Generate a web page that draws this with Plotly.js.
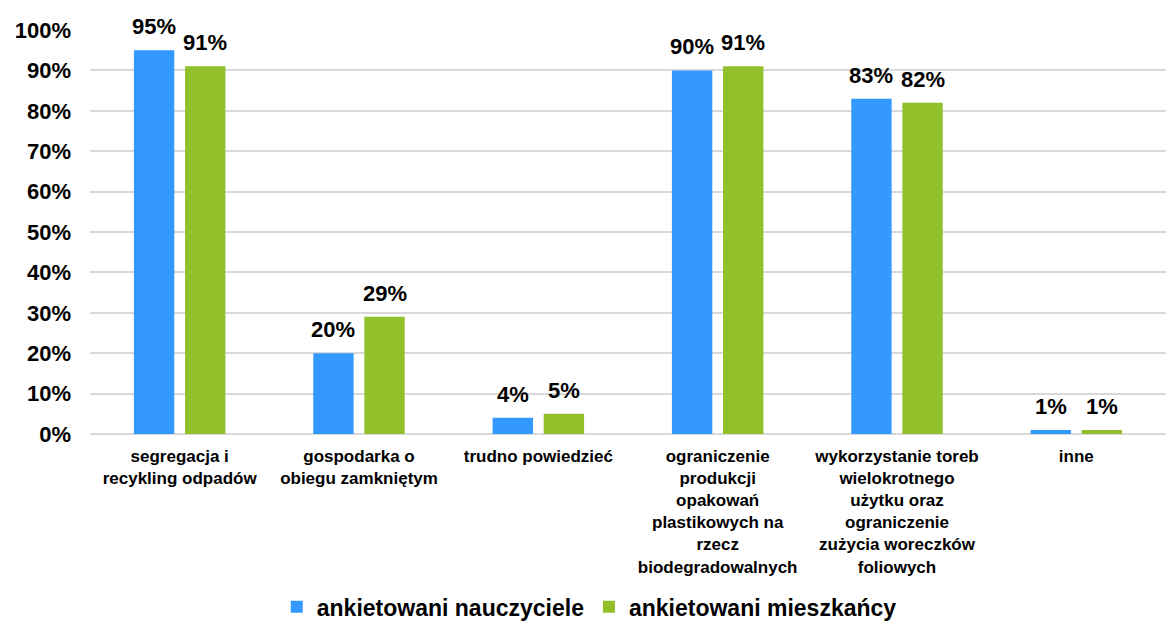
<!DOCTYPE html>
<html>
<head>
<meta charset="utf-8">
<script src="https://cdn.plot.ly/plotly-3.0.1.min.js"></script>
<style>html,body{margin:0;padding:0;background:#fff;}#chart{width:1166px;height:624px;}</style>
</head>
<body>
<div id="chart"></div>
<script>
const categories = [
  "segregacja i<br>recykling odpadów",
  "gospodarka o<br>obiegu zamkniętym",
  "trudno powiedzieć",
  "ograniczenie<br>produkcji<br>opakowań<br>plastikowych na<br>rzecz<br>biodegradowalnych",
  "wykorzystanie toreb<br>wielokrotnego<br>użytku oraz<br>ograniczenie<br>zużycia woreczków<br>foliowych",
  "inne"
];
const seriesNames = ["ankietowani nauczyciele", "ankietowani mieszkańcy"];
const teachers = [0.95, 0.20, 0.04, 0.90, 0.83, 0.01];
const residents = [0.91, 0.29, 0.05, 0.91, 0.82, 0.01];
const colors = ["#3399FF", "#92C02A"];
const yTicks = [0, 0.1, 0.2, 0.3, 0.4, 0.5, 0.6, 0.7, 0.8, 0.9, 1.0];

const FONT = "Arial, 'Liberation Sans', sans-serif";
function pct(v){ return Math.round(v*100) + "%"; }

const W = 1166, H = 624, ML = 90, MR = 0, MT = 30, MB = 190;
const BARGAP = 0.43, BARGROUPGAP = 0.21;
const slot = (W - ML - MR) / categories.length * (1 - BARGAP) / 2;

const seriesVals = [teachers, residents];
const traces = seriesVals.map((vals, i) => ({
  type: "bar",
  name: seriesNames[i],
  x: categories,
  y: vals,
  marker: {color: colors[i]},
  hoverinfo: "none"
}));

const annotations = [];
seriesVals.forEach((vals, i) => {
  vals.forEach((v, j) => {
    annotations.push({
      x: categories[j], y: v, xref: "x", yref: "y",
      text: pct(v), showarrow: false,
      xanchor: "center", yanchor: "bottom",
      xshift: (i === 0 ? -1 : 1) * slot / 2,
      yshift: 9,
      font: {family: FONT, size: 22, color: "#000", weight: "bold"}
    });
  });
});

const layout = {
  width: W, height: H,
  margin: {l: ML, r: MR, t: MT, b: MB, autoexpand: false},
  paper_bgcolor: "#fff", plot_bgcolor: "#fff",
  barmode: "group",
  bargap: BARGAP,
  bargroupgap: BARGROUPGAP,
  font: {family: FONT, color: "#000"},
  showlegend: true,
  legend: {
    orientation: "h", x: 0.464, xanchor: "center", y: -0.428, yanchor: "middle",
    font: {family: FONT, size: 23, weight: "bold", color: "#000"},
    itemwidth: 30, traceorder: "normal"
  },
  annotations: annotations,
  xaxis: {
    type: "category",
    tickfont: {family: FONT, size: 17, weight: "bold", color: "#000"},
    tickangle: 0,
    showline: false,
    ticks: "",
    ticklabelstandoff: 10,
    automargin: false
  },
  yaxis: {
    range: [0, 1.0],
    tickvals: yTicks,
    ticktext: yTicks.map(pct),
    tickfont: {family: FONT, size: 22, weight: "bold", color: "#000"},
    showgrid: true, gridcolor: "#D9D9D9", gridwidth: 2,
    zeroline: true, zerolinecolor: "#D9D9D9", zerolinewidth: 2,
    ticklabelstandoff: 18,
    automargin: false
  }
};

Plotly.newPlot("chart", traces, layout, {displayModeBar: false, staticPlot: true});
</script>
</body>
</html>
